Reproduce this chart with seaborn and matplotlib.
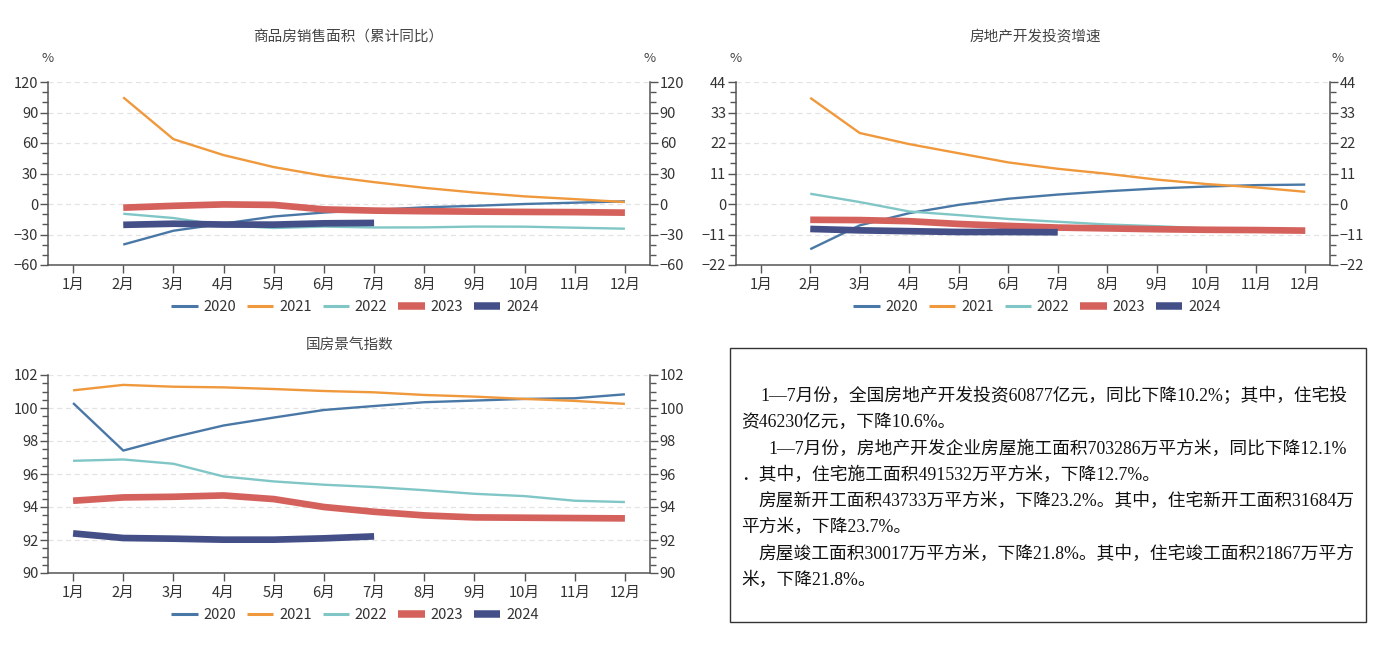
import numpy as np
import pandas as pd
import matplotlib
matplotlib.use("Agg")
import matplotlib.pyplot as plt
from matplotlib.lines import Line2D
from matplotlib.patches import Rectangle
from matplotlib.ticker import MultipleLocator, AutoMinorLocator
import seaborn as sns

nan = np.nan

months = [f"{i}月" for i in range(1, 13)]
years = ["2020", "2021", "2022", "2023", "2024"]

#################### DATA ####################

# 商品房销售面积 (累计同比, %), 2月 = 1-2月累计
sales_2020 = [nan, -39.9, -26.3, -19.3, -12.3, -8.4, -5.8, -3.3, -1.8, 0.0, 1.3, 2.6]
sales_2021 = [nan, 104.9, 63.8, 48.1, 36.3, 27.7, 21.5, 15.9, 11.3, 7.5, 4.8, 1.9]
sales_2022 = [nan, -9.6, -13.8, -20.9, -23.6, -22.2, -23.1, -23.0, -22.2, -22.3, -23.3, -24.3]
sales_2023 = [nan, -3.6, -1.8, -0.4, -0.9, -5.3, -6.5, -7.1, -7.5, -7.8, -8.0, -8.5]
sales_2024 = [nan, -20.5, -19.4, -20.2, -20.3, -19.0, -18.6, nan, nan, nan, nan, nan]

# 房地产开发投资增速 (%)
invest_2020 = [nan, -16.3, -7.7, -3.3, -0.3, 1.9, 3.4, 4.6, 5.6, 6.3, 6.8, 7.0]
invest_2021 = [nan, 38.3, 25.6, 21.6, 18.3, 15.0, 12.7, 10.9, 8.8, 7.2, 6.0, 4.4]
invest_2022 = [nan, 3.7, 0.7, -2.7, -4.0, -5.4, -6.4, -7.4, -8.0, -8.8, -9.5, -10.0]
invest_2023 = [nan, -5.7, -5.8, -6.2, -7.2, -7.9, -8.5, -8.8, -9.1, -9.3, -9.4, -9.6]
invest_2024 = [nan, -9.0, -9.5, -9.8, -10.1, -10.1, -10.2, nan, nan, nan, nan, nan]

# 国房景气指数
index_2020 = [100.3, 97.42, 98.23, 98.94, 99.42, 99.88, 100.12, 100.35, 100.45, 100.55, 100.59, 100.83]
index_2021 = [101.07, 101.40, 101.29, 101.25, 101.15, 101.03, 100.95, 100.79, 100.69, 100.55, 100.43, 100.25]
index_2022 = [96.80, 96.88, 96.62, 95.85, 95.55, 95.35, 95.21, 95.02, 94.80, 94.66, 94.38, 94.30]
index_2023 = [94.38, 94.58, 94.62, 94.70, 94.48, 94.00, 93.71, 93.49, 93.37, 93.35, 93.33, 93.31]
index_2024 = [92.40, 92.12, 92.08, 92.02, 92.02, 92.10, 92.22, nan, nan, nan, nan, nan]

notes = [
    "1—7月份，全国房地产开发投资60877亿元，同比下降10.2%；其中，住宅投",
    "资46230亿元，下降10.6%。",
    "1—7月份，房地产开发企业房屋施工面积703286万平方米，同比下降12.1%",
    "．其中，住宅施工面积491532万平方米，下降12.7%。",
    "房屋新开工面积43733万平方米，下降23.2%。其中，住宅新开工面积31684万",
    "平方米，下降23.7%。",
    "房屋竣工面积30017万平方米，下降21.8%。其中，住宅竣工面积21867万平方",
    "米，下降21.8%。",
]
note_indent = [19, 0, 27, 0, 17, 0, 17, 0]

#################### STYLE ####################

colors = {"2020": "#4a78a6", "2021": "#f0983c", "2022": "#80c6c6",
          "2023": "#d4615c", "2024": "#434f86"}
widths = {"2020": 1.7, "2021": 1.7, "2022": 1.7, "2023": 4.8, "2024": 4.8}

sns.set_style("white")
plt.rcParams["font.family"] = ["Noto Sans CJK SC", "DejaVu Sans"]

W, H = 1385, 655
fig = plt.figure(figsize=(W / 100, H / 100), dpi=100)


def px_axes(left, top, right, bottom):
    return fig.add_axes([left / W, 1 - bottom / H, (right - left) / W, (bottom - top) / H])


def make_df(series):
    rows = []
    for y, vals in zip(years, series):
        for i, v in enumerate(vals):
            rows.append({"m": i, "year": y, "v": v})
    return pd.DataFrame(rows).dropna()


def draw(ax, series, lo, hi, step, nminor):
    df = make_df(series)
    for y in years:
        sub = df[df["year"] == y]
        sns.lineplot(data=sub, x="m", y="v", ax=ax, color=colors[y],
                     linewidth=widths[y], solid_capstyle="butt", zorder=3 if y in ("2023", "2024") else 2)
    ax.set_xlim(-0.5, 11.5)
    ax.set_ylim(lo, hi)
    ax.set_xticks(range(12), months)
    ax.set_xlabel("")
    ax.set_ylabel("")
    ax.yaxis.set_major_locator(MultipleLocator(step))
    ax.yaxis.set_minor_locator(AutoMinorLocator(nminor))
    ax.tick_params(axis="y", which="both", left=True, right=True,
                   labelleft=True, labelright=True, direction="out", color="#555555")
    ax.tick_params(axis="y", which="major", length=6, width=1, labelsize=10.5, labelcolor="#333333", pad=1)
    ax.tick_params(axis="y", which="minor", length=4, width=1)
    ax.tick_params(axis="x", bottom=True, length=6, width=1, color="#555555",
                   labelsize=10.5, labelcolor="#333333", pad=3)
    ax.grid(axis="y", which="major", linestyle=(0, (4, 3)), color="#e3e3e3", linewidth=0.9)
    ax.grid(axis="x", visible=False)
    for s in ["left", "right", "bottom"]:
        ax.spines[s].set_color("#555555")
        ax.spines[s].set_linewidth(1.1)
    ax.spines["top"].set_visible(False)
    ax.set_facecolor("white")


def add_legend(cx, cy):
    handles = [Line2D([], [], color=colors[y], linewidth=widths[y] + 0.6 if y in ("2023", "2024") else 2.2,
                      solid_capstyle="butt") for y in years]
    fig.legend(handles, years, loc="center", bbox_to_anchor=(cx / W, 1 - cy / H), ncol=5,
               frameon=False, fontsize=10.5, handlelength=1.8, handletextpad=0.4,
               columnspacing=0.75, labelcolor="#333333")


#################### CHARTS ####################

ax1 = px_axes(48, 82, 650, 265)
draw(ax1, [sales_2020, sales_2021, sales_2022, sales_2023, sales_2024], -60, 120, 30, 3)
fig.text(348 / W, 1 - 37 / H, "商品房销售面积（累计同比）", ha="center", va="center", fontsize=10.5, color="#444444")
fig.text(48 / W, 1 - 58 / H, "%", ha="center", va="center", fontsize=9.5, color="#444444")
fig.text(650 / W, 1 - 58 / H, "%", ha="center", va="center", fontsize=9.5, color="#444444")
add_legend(355, 307)

ax2 = px_axes(736, 82, 1330, 265)
draw(ax2, [invest_2020, invest_2021, invest_2022, invest_2023, invest_2024], -22, 44, 11, 3)
fig.text(1035 / W, 1 - 37 / H, "房地产开发投资增速", ha="center", va="center", fontsize=10.5, color="#444444")
fig.text(736 / W, 1 - 58 / H, "%", ha="center", va="center", fontsize=9.5, color="#444444")
fig.text(1338 / W, 1 - 58 / H, "%", ha="center", va="center", fontsize=9.5, color="#444444")
add_legend(1037, 307)

ax3 = px_axes(48, 375, 650, 573)
draw(ax3, [index_2020, index_2021, index_2022, index_2023, index_2024], 90, 102, 2, 4)
fig.text(350 / W, 1 - 345 / H, "国房景气指数", ha="center", va="center", fontsize=10.5, color="#444444")
add_legend(355, 615)

#################### TEXT BOX ####################

fig.patches.append(Rectangle((730 / W, 1 - 622 / H), 636 / W, 274 / H, transform=fig.transFigure,
                             fill=False, edgecolor="#333333", linewidth=1.0))
line_y = [396, 422, 449, 475, 501, 527, 554, 580]
for txt, ind, yy in zip(notes, note_indent, line_y):
    fig.text((741 + ind) / W, 1 - yy / H, txt, ha="left", va="center", fontsize=12.75,
             family=["Liberation Serif", "Noto Sans CJK SC"], color="#111111")

fig.savefig("out.png", dpi=100, facecolor="white")
